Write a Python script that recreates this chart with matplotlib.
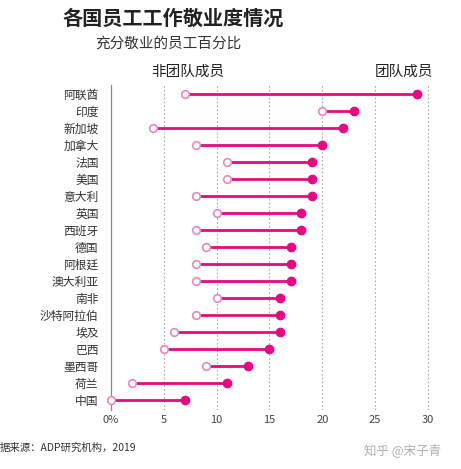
import matplotlib
matplotlib.use("Agg")
import matplotlib.pyplot as plt

plt.rcParams['font.family'] = ['Noto Sans CJK SC', 'DejaVu Sans']

countries = ["阿联酋", "印度", "新加坡", "加拿大", "法国", "美国", "意大利", "英国",
             "西班牙", "德国", "阿根廷", "澳大利亚", "南非", "沙特阿拉伯", "埃及",
             "巴西", "墨西哥", "荷兰", "中国"]
non_team = [7, 20, 4, 8, 11, 11, 8, 10, 8, 9, 8, 8, 10, 8, 6, 5, 9, 2, 0]
team = [29, 23, 22, 20, 19, 19, 19, 18, 18, 17, 17, 17, 16, 16, 16, 15, 13, 11, 7]
xticks = [0, 5, 10, 15, 20, 25, 30]
xtick_labels = ["0%", "5", "10", "15", "20", "25", "30"]

PINK = "#E6097F"
PINK_LIGHT = "#EC86BE"

fig = plt.figure(figsize=(4.61, 4.69), dpi=100)
ax = fig.add_axes([0.241, 0.126, 0.710, 0.692])

ys = list(range(len(countries)))
for y, a, b in zip(ys, non_team, team):
    ax.plot([a, b], [y, y], color=PINK, lw=2.0, zorder=2, solid_capstyle="butt")
ax.plot(team, ys, "o", color=PINK, ms=6, zorder=3, clip_on=False)
ax.plot(non_team, ys, "o", mfc="white", mec=PINK_LIGHT, mew=1.2, ms=5.5,
        zorder=4, clip_on=False)

for x in xticks[1:]:
    ax.axvline(x, color="#aaaaaa", lw=0.8, ls=(0, (1.5, 2)), zorder=1)

ax.set_xlim(0, 31)
ax.set_ylim(18.6, -0.5)
ax.set_yticks(ys)
ax.set_yticklabels(countries, fontsize=8.5, color="#333333")
ax.set_xticks(xticks)
ax.set_xticklabels(xtick_labels, fontsize=8, color="#444444")
ax.tick_params(axis="both", length=0)
ax.tick_params(axis="y", pad=9)
ax.tick_params(axis="x", pad=4)
for s in ("top", "right", "bottom"):
    ax.spines[s].set_visible(False)
ax.spines["left"].set_color("#888888")
ax.spines["left"].set_linewidth(0.9)

fig.text(0.135, 0.962, "各国员工工作敬业度情况", fontsize=14.5, weight="bold",
         color="#222222", ha="left", va="center")
fig.text(0.206, 0.906, "充分敬业的员工百分比", fontsize=10.5, color="#333333",
         ha="left", va="center")
fig.text(0.408, 0.847, "非团队成员", fontsize=10.5, color="#222222",
         ha="center", va="center")
fig.text(0.877, 0.847, "团队成员", fontsize=10.5, color="#222222",
         ha="center", va="center")
fig.text(0.0, 0.045, "据来源：ADP研究机构，2019", fontsize=7.5, color="#333333",
         ha="left", va="center")
fig.text(0.79, 0.04, "知乎 @宋子青", fontsize=9, color="#b0b0b0",
         ha="left", va="center")

fig.savefig("out.png", dpi=100, facecolor="white")
